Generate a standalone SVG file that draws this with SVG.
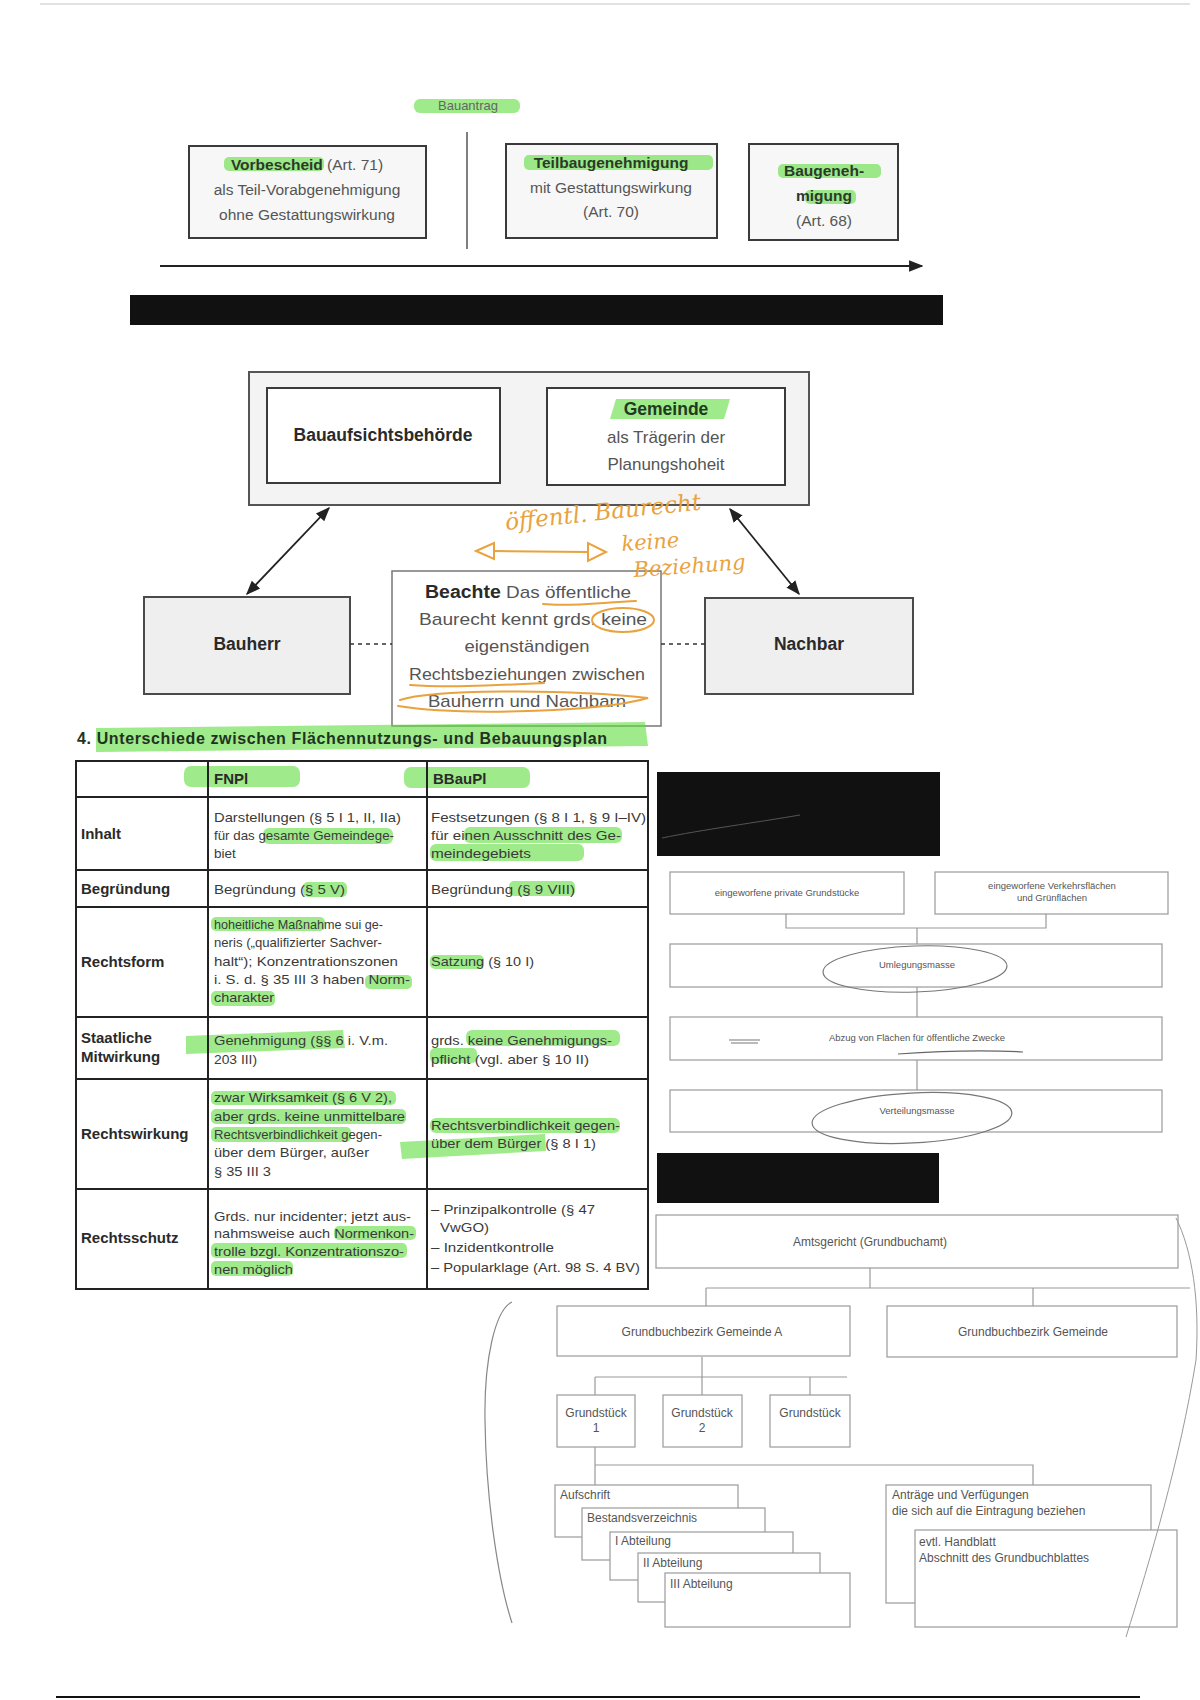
<svg xmlns="http://www.w3.org/2000/svg" width="1200" height="1700" viewBox="0 0 1200 1700">
<defs>
<style>
.bx{fill:#f7f7f7;stroke:#3a3a3a;stroke-width:2}
.bxw{fill:#fff;stroke:#3a3a3a;stroke-width:2}
.bxg{fill:#efefef;stroke:#4a4a4a;stroke-width:2}
.r16{font-family:'Liberation Sans',Arial,sans-serif;font-size:15.5px;fill:#555}
.b16{font-family:'Liberation Sans',Arial,sans-serif;font-size:15.5px;font-weight:bold;fill:#2a3a2a}
.r17{font-family:'Liberation Sans',Arial,sans-serif;font-size:17px;fill:#555}
.b17{font-family:'Liberation Sans',Arial,sans-serif;font-size:17.5px;font-weight:bold;fill:#2a2a2a}
.t13{font-family:'Liberation Sans',Arial,sans-serif;font-size:13.5px;fill:#3a3a3a}
.tb13{font-family:'Liberation Sans',Arial,sans-serif;font-size:15px;font-weight:bold;fill:#2a2a2a}
.hl{fill:#5fdc3c;opacity:0.6}
.tl{stroke:#222;stroke-width:2;fill:none}
.fb{fill:#fff;stroke:#9a9a9a;stroke-width:1.2}
.fl{stroke:#9a9a9a;stroke-width:1.2;fill:none}
.ft{font-family:'Liberation Sans',Arial,sans-serif;font-size:12px;fill:#555}
.fs{font-family:'Liberation Sans',Arial,sans-serif;font-size:9.5px;fill:#555}
.or{fill:none;stroke:#e9a23e;stroke-width:2;stroke-linecap:round}
.ot{font-family:'DejaVu Serif',serif;font-style:italic;fill:#e9a23e}
.c{text-anchor:middle}
</style>
<marker id="ah" viewBox="0 0 10 10" refX="9" refY="5" markerWidth="8" markerHeight="8" orient="auto-start-reverse">
<path d="M0,1 L10,5 L0,9 z" fill="#222"/>
</marker>
</defs>
<rect width="1200" height="1700" fill="#fff"/>
<line x1="40" y1="4" x2="1190" y2="4" stroke="#d8d8d8" stroke-width="1.5"/>
<line x1="56" y1="1697" x2="1140" y2="1697" stroke="#111" stroke-width="2"/>

<!-- Section 1 -->
<g id="bauantrag">
<rect class="hl" x="414" y="99" width="106" height="14" rx="6"/>
<text class="t13 c" x="468" y="110" style="fill:#666;font-size:13px">Bauantrag</text>
</g>
<g id="vorbescheid">
<rect class="bx" x="189" y="146" width="237" height="92"/>
<rect class="hl" x="224" y="157" width="100" height="14" rx="5"/>
<text class="r16 c" x="307" y="170"><tspan class="b16">Vorbescheid</tspan> (Art. 71)</text>
<text class="r16 c" x="307" y="195">als Teil-Vorabgenehmigung</text>
<text class="r16 c" x="307" y="220">ohne Gestattungswirkung</text>
</g>
<g id="teilbaugenehmigung">
<rect class="bx" x="506" y="144" width="211" height="94"/>
<rect class="hl" x="524" y="155" width="189" height="15" rx="5"/>
<text class="b16 c" x="611" y="168">Teilbaugenehmigung</text>
<text class="r16 c" x="611" y="193">mit Gestattungswirkung</text>
<text class="r16 c" x="611" y="217">(Art. 70)</text>
</g>
<g id="baugenehmigung">
<rect class="bx" x="749" y="144" width="149" height="96"/>
<rect class="hl" x="778" y="164" width="103" height="14" rx="5"/>
<rect class="hl" x="805" y="190" width="51" height="14" rx="5"/>
<text class="b16 c" x="824" y="176">Baugeneh-</text>
<text class="b16 c" x="824" y="201">migung</text>
<text class="r16 c" x="824" y="226">(Art. 68)</text>
</g>
<g id="bar1"><rect x="130" y="295" width="813" height="30" fill="#111"/></g>

<!-- Section 2 -->
<g id="behoerden">
<rect x="249" y="372" width="560" height="133" fill="#f3f3f3" stroke="#555" stroke-width="2"/>
</g>
<g id="bauaufsichtsbehoerde">
<rect class="bxw" x="267" y="388" width="233" height="95"/>
<text class="b17 c" x="383" y="441">Bauaufsichtsbehörde</text>
</g>
<g id="gemeinde">
<rect class="bxw" x="547" y="388" width="238" height="97"/>
<path class="hl" d="M616,399 L730,399 L724,419 L610,419 z"/>
<text class="b17 c" x="666" y="415" style="fill:#1f3a1f">Gemeinde</text>
<text class="r17 c" x="666" y="443">als Trägerin der</text>
<text class="r17 c" x="666" y="470">Planungshoheit</text>
</g>
<g id="bauherr">
<rect class="bxg" x="144" y="597" width="206" height="97"/>
<text class="b17 c" x="247" y="650">Bauherr</text>
</g>
<g id="nachbar">
<rect class="bxg" x="705" y="598" width="208" height="96"/>
<text class="b17 c" x="809" y="650">Nachbar</text>
</g>
<g id="beachte">
<rect x="392" y="571" width="269" height="155" fill="#fff" stroke="#777" stroke-width="1.5"/>
<text class="r17 c" x="528" y="598" textLength="206" lengthAdjust="spacingAndGlyphs"><tspan class="b17">Beachte</tspan> Das öffentliche</text>
<text class="r17 c" x="533" y="625" textLength="228" lengthAdjust="spacingAndGlyphs">Baurecht kennt grds. keine</text>
<text class="r17 c" x="527" y="652" textLength="125" lengthAdjust="spacingAndGlyphs">eigenständigen</text>
<text class="r17 c" x="527" y="680" textLength="236" lengthAdjust="spacingAndGlyphs">Rechtsbeziehungen zwischen</text>
<text class="r17 c" x="527" y="707" textLength="198" lengthAdjust="spacingAndGlyphs">Bauherrn und Nachbarn</text>
</g>
<g id="connectors">
<line x1="160" y1="266" x2="922" y2="266" stroke="#222" stroke-width="1.8" marker-end="url(#ah)"/>
<line x1="467" y1="132" x2="467" y2="249" stroke="#555" stroke-width="1.5"/>
<line x1="329" y1="508" x2="247" y2="594" stroke="#222" stroke-width="1.8" marker-start="url(#ah)" marker-end="url(#ah)"/>
<line x1="730" y1="509" x2="799" y2="594" stroke="#222" stroke-width="1.8" marker-start="url(#ah)" marker-end="url(#ah)"/>
<line x1="350" y1="644" x2="392" y2="644" stroke="#333" stroke-width="1.5" stroke-dasharray="4,4"/>
<line x1="661" y1="644" x2="705" y2="644" stroke="#333" stroke-width="1.5" stroke-dasharray="4,4"/>
<path class="fl" d="M786,914 V928 H1046 V914 M917,928 V944"/>
<path class="fl" d="M917,987 V1017 M917,1060 V1090"/>
<path class="fl" d="M870,1268 V1288 M706,1288 H1190 M706,1288 V1306 M1033,1288 V1306"/>
<path class="fl" d="M702,1357 V1377 M595,1377 H847 M595,1377 V1395 M702,1377 V1395 M810,1377 V1395"/>
<path class="fl" d="M595,1447 V1485 M595,1465 H1033 V1485"/>
</g>
<g id="annotation">
<text class="ot" x="506" y="530" font-size="23" transform="rotate(-6 506 530)">öffentl. Baurecht</text>
<polygon class="or" points="476,551 494,543 494,559"/>
<line class="or" x1="494" y1="551" x2="588" y2="552"/>
<polygon class="or" points="588,543 588,561 606,552"/>
<text class="ot" x="622" y="551" font-size="21" transform="rotate(-4 622 551)">keine</text>
<text class="ot" x="634" y="577" font-size="21" transform="rotate(-4 634 577)">Beziehung</text>
<path class="or" d="M543,604 C570,607 605,602 636,601" stroke-width="1.6"/>
<ellipse class="or" cx="623" cy="620" rx="31" ry="12" stroke-width="1.6"/>
<path class="or" d="M410,685 C450,688 500,685 544,683" stroke-width="1.6"/>
<path class="or" d="M400,700 C430,690 560,688 648,698 C600,712 460,716 398,706" stroke-width="1.6"/>
</g>

<!-- Section 3 table -->
<g id="heading">
<path class="hl" d="M96,728 L645,722 L648,746 L96,752 z"/>
<text x="77" y="744" textLength="530" style="font-family:'Liberation Sans',Arial,sans-serif;font-size:16px;font-weight:bold;fill:#1f3322">4. Unterschiede zwischen Flächennutzungs- und Bebauungsplan</text>
</g>
<g id="table-highlights">
<rect class="hl" x="184" y="766" width="116" height="21" rx="7"/>
<rect class="hl" x="404" y="767" width="126" height="21" rx="7"/>
<rect class="hl" x="263" y="828" width="130" height="16" rx="6"/>
<rect class="hl" x="464" y="827" width="158" height="16" rx="6"/>
<rect class="hl" x="430" y="844" width="154" height="17" rx="6"/>
<rect class="hl" x="303" y="882" width="44" height="15" rx="5"/>
<rect class="hl" x="509" y="881" width="66" height="15" rx="5"/>
<rect class="hl" x="211" y="917" width="114" height="14" rx="5"/>
<rect class="hl" x="365" y="975" width="47" height="14" rx="5"/>
<rect class="hl" x="211" y="991" width="64" height="15" rx="5"/>
<rect class="hl" x="430" y="955" width="54" height="14" rx="5"/>
<path class="hl" d="M186,1036 L343,1030 L345,1048 L186,1054 z"/>
<rect class="hl" x="466" y="1030" width="154" height="16" rx="6"/>
<rect class="hl" x="430" y="1048" width="47" height="15" rx="5"/>
<rect class="hl" x="211" y="1091" width="185" height="14" rx="5" opacity="0.4"/>
<rect class="hl" x="211" y="1109" width="195" height="15" rx="5"/>
<rect class="hl" x="211" y="1127" width="140" height="15" rx="5"/>
<rect class="hl" x="430" y="1118" width="190" height="15" rx="6"/>
<path class="hl" d="M400,1142 L545,1134 L546,1151 L402,1159 z"/>
<rect class="hl" x="334" y="1226" width="82" height="14" rx="5"/>
<rect class="hl" x="211" y="1243" width="196" height="15" rx="5"/>
<rect class="hl" x="211" y="1261" width="82" height="15" rx="5"/>
</g>
<g id="table">
<rect class="tl" x="76" y="761" width="572" height="528"/>
<path class="tl" d="M208,761 V1289 M427,761 V1289 M76,797 H648 M76,870 H648 M76,907 H648 M76,1017 H648 M76,1079 H648 M76,1189 H648"/>
</g>
<g id="row-header">
<text class="tb13" x="214" y="784">FNPl</text>
<text class="tb13" x="433" y="784">BBauPl</text>
</g>
<g id="row-inhalt">
<text class="tb13" x="81" y="839">Inhalt</text>
<text class="t13" x="214" y="822" textLength="187" lengthAdjust="spacingAndGlyphs">Darstellungen (§ 5 I 1, II, IIa)</text>
<text class="t13" x="214" y="840" textLength="180" lengthAdjust="spacingAndGlyphs">für das gesamte Gemeindege-</text>
<text class="t13" x="214" y="858">biet</text>
<text class="t13" x="431" y="822" textLength="215" lengthAdjust="spacingAndGlyphs">Festsetzungen (§ 8 I 1, § 9 I–IV)</text>
<text class="t13" x="431" y="840" textLength="190" lengthAdjust="spacingAndGlyphs">für einen Ausschnitt des Ge-</text>
<text class="t13" x="431" y="858" textLength="100" lengthAdjust="spacingAndGlyphs">meindegebiets</text>
</g>
<g id="row-begruendung">
<text class="tb13" x="81" y="894">Begründung</text>
<text class="t13" x="214" y="894" textLength="131" lengthAdjust="spacingAndGlyphs">Begründung (§ 5 V)</text>
<text class="t13" x="431" y="894" textLength="144" lengthAdjust="spacingAndGlyphs">Begründung (§ 9 VIII)</text>
</g>
<g id="row-rechtsform">
<text class="tb13" x="81" y="967">Rechtsform</text>
<text class="t13" x="214" y="929" textLength="169" lengthAdjust="spacingAndGlyphs">hoheitliche Maßnahme sui ge-</text>
<text class="t13" x="214" y="947" textLength="168" lengthAdjust="spacingAndGlyphs">neris („qualifizierter Sachver-</text>
<text class="t13" x="214" y="966" textLength="184" lengthAdjust="spacingAndGlyphs">halt“); Konzentrationszonen</text>
<text class="t13" x="214" y="984" textLength="196" lengthAdjust="spacingAndGlyphs">i. S. d. § 35 III 3 haben Norm-</text>
<text class="t13" x="214" y="1002" textLength="60" lengthAdjust="spacingAndGlyphs">charakter</text>
<text class="t13" x="431" y="966" textLength="103" lengthAdjust="spacingAndGlyphs">Satzung (§ 10 I)</text>
</g>
<g id="row-mitwirkung">
<text class="tb13" x="81" y="1043">Staatliche</text>
<text class="tb13" x="81" y="1062">Mitwirkung</text>
<text class="t13" x="214" y="1045" textLength="174" lengthAdjust="spacingAndGlyphs">Genehmigung (§§ 6 i. V.m.</text>
<text class="t13" x="214" y="1064" textLength="43" lengthAdjust="spacingAndGlyphs">203 III)</text>
<text class="t13" x="431" y="1045" textLength="181" lengthAdjust="spacingAndGlyphs">grds. keine Genehmigungs-</text>
<text class="t13" x="431" y="1064" textLength="158" lengthAdjust="spacingAndGlyphs">pflicht (vgl. aber § 10 II)</text>
</g>
<g id="row-rechtswirkung">
<text class="tb13" x="81" y="1139">Rechtswirkung</text>
<text class="t13" x="214" y="1102" textLength="178" lengthAdjust="spacingAndGlyphs">zwar Wirksamkeit (§ 6 V 2),</text>
<text class="t13" x="214" y="1121" textLength="191" lengthAdjust="spacingAndGlyphs">aber grds. keine unmittelbare</text>
<text class="t13" x="214" y="1139" textLength="168" lengthAdjust="spacingAndGlyphs">Rechtsverbindlichkeit gegen-</text>
<text class="t13" x="214" y="1157" textLength="155" lengthAdjust="spacingAndGlyphs">über dem Bürger, außer</text>
<text class="t13" x="214" y="1176" textLength="57" lengthAdjust="spacingAndGlyphs">§ 35 III 3</text>
<text class="t13" x="431" y="1130" textLength="189" lengthAdjust="spacingAndGlyphs">Rechtsverbindlichkeit gegen-</text>
<text class="t13" x="431" y="1148" textLength="165" lengthAdjust="spacingAndGlyphs">über dem Bürger (§ 8 I 1)</text>
</g>
<g id="row-rechtsschutz">
<text class="tb13" x="81" y="1243">Rechtsschutz</text>
<text class="t13" x="214" y="1221" textLength="197" lengthAdjust="spacingAndGlyphs">Grds. nur incidenter; jetzt aus-</text>
<text class="t13" x="214" y="1238" textLength="200" lengthAdjust="spacingAndGlyphs">nahmsweise auch Normenkon-</text>
<text class="t13" x="214" y="1256" textLength="190" lengthAdjust="spacingAndGlyphs">trolle bzgl. Konzentrationszo-</text>
<text class="t13" x="214" y="1274" textLength="79" lengthAdjust="spacingAndGlyphs">nen möglich</text>
<text class="t13" x="431" y="1214" textLength="164" lengthAdjust="spacingAndGlyphs">– Prinzipalkontrolle (§ 47</text>
<text class="t13" x="440" y="1232" textLength="49" lengthAdjust="spacingAndGlyphs">VwGO)</text>
<text class="t13" x="431" y="1252" textLength="123" lengthAdjust="spacingAndGlyphs">– Inzidentkontrolle</text>
<text class="t13" x="431" y="1272" textLength="209" lengthAdjust="spacingAndGlyphs">– Popularklage (Art. 98 S. 4 BV)</text>
</g>

<!-- Right faint diagram -->
<g id="bar2"><rect x="657" y="772" width="283" height="84" fill="#111"/><path d="M662,838 C700,830 760,822 800,815" stroke="#555" stroke-width="1" fill="none"/></g>
<g id="private-grundstuecke">
<rect class="fb" x="670" y="872" width="234" height="42"/>
<text class="fs c" x="787" y="896">eingeworfene private Grundstücke</text>
</g>
<g id="verkehrsflaechen">
<rect class="fb" x="935" y="872" width="233" height="42"/>
<text class="fs c" x="1052" y="889">eingeworfene Verkehrsflächen</text>
<text class="fs c" x="1052" y="901">und Grünflächen</text>
</g>
<g id="umlegungsmasse">
<rect class="fb" x="670" y="944" width="492" height="43"/>
<text class="fs c" x="917" y="968">Umlegungsmasse</text>
<ellipse cx="915" cy="969" rx="92" ry="23" fill="none" stroke="#777" stroke-width="1.2" transform="rotate(-2 915 969)"/>
</g>
<g id="abzug">
<rect class="fb" x="670" y="1017" width="492" height="43"/>
<text class="fs c" x="917" y="1041">Abzug von Flächen für öffentliche Zwecke</text>
<path d="M729,1040 H760 M731,1043 H758" stroke="#777" stroke-width="1.2" fill="none"/>
<path d="M898,1054 C940,1051 990,1050 1023,1052" stroke="#666" stroke-width="1.2" fill="none"/>
</g>
<g id="verteilungsmasse">
<rect class="fb" x="670" y="1090" width="492" height="42"/>
<text class="fs c" x="917" y="1114">Verteilungsmasse</text>
<ellipse cx="912" cy="1118" rx="100" ry="25" fill="none" stroke="#777" stroke-width="1.2" transform="rotate(-3 912 1118)"/>
</g>
<g id="bar3"><rect x="657" y="1153" width="282" height="50" fill="#111"/></g>
<g id="amtsgericht">
<rect class="fb" x="656" y="1215" width="522" height="53"/>
<text class="ft c" x="870" y="1246">Amtsgericht (Grundbuchamt)</text>
</g>
<g id="bezirk-a">
<rect class="fb" x="557" y="1306" width="293" height="50"/>
<text class="ft c" x="702" y="1336">Grundbuchbezirk Gemeinde A</text>
</g>
<g id="bezirk-b">
<rect class="fb" x="887" y="1306" width="290" height="51"/>
<text class="ft c" x="1033" y="1336">Grundbuchbezirk Gemeinde</text>
</g>
<g id="grundstueck-1">
<rect class="fb" x="557" y="1395" width="78" height="52"/>
<text class="ft c" x="596" y="1417">Grundstück</text>
<text class="ft c" x="596" y="1432">1</text>
</g>
<g id="grundstueck-2">
<rect class="fb" x="663" y="1395" width="79" height="52"/>
<text class="ft c" x="702" y="1417">Grundstück</text>
<text class="ft c" x="702" y="1432">2</text>
</g>
<g id="grundstueck-3">
<rect class="fb" x="770" y="1395" width="80" height="52"/>
<text class="ft c" x="810" y="1417">Grundstück</text>
</g>
<g id="aufschrift">
<rect class="fb" x="555" y="1485" width="183" height="52"/>
<text class="ft" x="560" y="1499">Aufschrift</text>
</g>
<g id="bestandsverzeichnis">
<rect class="fb" x="582" y="1508" width="183" height="52"/>
<text class="ft" x="587" y="1522">Bestandsverzeichnis</text>
</g>
<g id="abteilung-1">
<rect class="fb" x="610" y="1532" width="183" height="48"/>
<text class="ft" x="615" y="1545">I  Abteilung</text>
</g>
<g id="abteilung-2">
<rect class="fb" x="638" y="1553" width="182" height="49"/>
<text class="ft" x="643" y="1567">II  Abteilung</text>
</g>
<g id="abteilung-3">
<rect class="fb" x="665" y="1573" width="185" height="54"/>
<text class="ft" x="670" y="1588">III  Abteilung</text>
</g>
<g id="antraege">
<rect class="fb" x="886" y="1485" width="265" height="118"/>
<text class="ft" x="892" y="1499">Anträge und Verfügungen</text>
<text class="ft" x="892" y="1515">die sich auf die Eintragung beziehen</text>
</g>
<g id="handblatt">
<rect class="fb" x="915" y="1530" width="262" height="97"/>
<text class="ft" x="919" y="1546">evtl. Handblatt</text>
<text class="ft" x="919" y="1562">Abschnitt des Grundbuchblattes</text>
</g>
<g id="pencil-marks">
<path d="M512,1302 C495,1310 484,1360 485,1420 C486,1500 498,1580 512,1623" fill="none" stroke="#888" stroke-width="1.2"/>
<path d="M1176,1218 C1192,1250 1200,1300 1196,1360 C1180,1460 1150,1560 1126,1637" fill="none" stroke="#999" stroke-width="1"/>
</g>
</svg>
